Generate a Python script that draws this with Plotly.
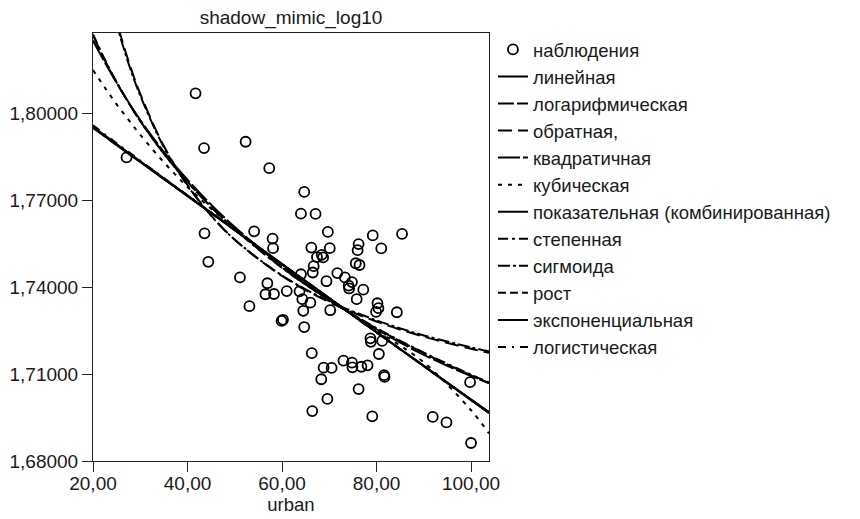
import plotly.graph_objects as go

# ---- observations ----
urban = [27.1, 41.7, 43.5, 43.6, 44.4, 52.3, 57.3, 51.1, 53.1, 54.1,
         58.0, 58.1, 56.9, 56.5, 58.3, 59.9, 60.2, 61.0, 64.7, 64.0,
         67.1, 69.7, 79.2, 85.4, 66.2, 70.1, 76.2, 76.0, 81.0, 68.4,
         67.4, 68.7, 66.7, 66.5, 75.6, 76.4, 64.0, 71.7, 73.3, 69.4,
         74.8, 74.1, 74.2, 77.2, 63.7, 64.3, 66.0, 75.8, 80.2, 80.4,
         79.9, 84.3, 64.5, 70.2, 64.7, 78.7, 78.8, 81.2, 80.5, 66.3,
         73.0, 74.8, 74.9, 76.8, 78.1, 68.8, 70.5, 68.3, 76.2, 81.6,
         81.7, 69.6, 66.4, 79.1, 99.8, 91.9, 94.8, 100.0]
shadow = [1.7847, 1.8068, 1.7879, 1.7585, 1.7487, 1.7901, 1.7810, 1.7433, 1.7334, 1.7592,
          1.7567, 1.7534, 1.7413, 1.7375, 1.7376, 1.7283, 1.7287, 1.7386, 1.7728, 1.7653,
          1.7652, 1.7590, 1.7578, 1.7583, 1.7536, 1.7534, 1.7548, 1.7527, 1.7533, 1.7511,
          1.7503, 1.7502, 1.7472, 1.7450, 1.7482, 1.7476, 1.7444, 1.7448, 1.7433, 1.7420,
          1.7417, 1.7405, 1.7395, 1.7391, 1.7385, 1.7358, 1.7346, 1.7358, 1.7344, 1.7327,
          1.7314, 1.7313, 1.7318, 1.7320, 1.7262, 1.7223, 1.7211, 1.7214, 1.7169, 1.7172,
          1.7146, 1.7139, 1.7123, 1.7125, 1.7130, 1.7122, 1.7121, 1.7082, 1.7048, 1.7096,
          1.7090, 1.7014, 1.6972, 1.6954, 1.7072, 1.6952, 1.6933, 1.6862]

# ---- fitted curves ----
fit_x = [20, 22.5, 25, 27.5, 30, 35, 40, 45, 50, 60, 70, 80, 90, 100, 103.8]
fit_linear = [1.7948, 1.7919, 1.7889, 1.7860, 1.7831, 1.7772, 1.7713, 1.7655, 1.7596, 1.7479, 1.7362, 1.7244, 1.7127, 1.7010, 1.6965]
fit_log = [1.8268, 1.8182, 1.8105, 1.8036, 1.7972, 1.7860, 1.7763, 1.7677, 1.7600, 1.7467, 1.7355, 1.7257, 1.7172, 1.7095, 1.7068]
fit_inverse = [1.8694, 1.8484, 1.8317, 1.8180, 1.8066, 1.7886, 1.7752, 1.7647, 1.7563, 1.7438, 1.7348, 1.7281, 1.7229, 1.7187, 1.7173]
fit_quadratic = [1.8250, 1.8175, 1.8104, 1.8038, 1.7976, 1.7866, 1.7770, 1.7684, 1.7607, 1.7472, 1.7356, 1.7254, 1.7166, 1.7093, 1.7070]
fit_cubic = [1.8148, 1.8088, 1.8030, 1.7977, 1.7925, 1.7830, 1.7745, 1.7670, 1.7600, 1.7475, 1.7360, 1.7250, 1.7140, 1.6975, 1.6895]
fit_compound = [1.7952, 1.7922, 1.7892, 1.7862, 1.7833, 1.7774, 1.7715, 1.7656, 1.7597, 1.7479, 1.7361, 1.7244, 1.7128, 1.7012, 1.6968]
fit_power = [1.8272, 1.8185, 1.8107, 1.8037, 1.7973, 1.7860, 1.7762, 1.7676, 1.7599, 1.7466, 1.7355, 1.7258, 1.7174, 1.7098, 1.7071]
fit_s = [1.8680, 1.8472, 1.8307, 1.8172, 1.8060, 1.7882, 1.7750, 1.7646, 1.7563, 1.7440, 1.7351, 1.7285, 1.7233, 1.7192, 1.7178]
fit_growth = [1.7952, 1.7922, 1.7892, 1.7862, 1.7833, 1.7774, 1.7715, 1.7656, 1.7597, 1.7479, 1.7361, 1.7244, 1.7128, 1.7012, 1.6968]
fit_exponential = [1.7952, 1.7922, 1.7892, 1.7862, 1.7833, 1.7774, 1.7715, 1.7656, 1.7597, 1.7479, 1.7361, 1.7244, 1.7128, 1.7012, 1.6968]
fit_logistic = [1.7958, 1.7927, 1.7896, 1.7866, 1.7836, 1.7776, 1.7716, 1.7657, 1.7597, 1.7478, 1.7360, 1.7243, 1.7127, 1.7011, 1.6967]

x_ticks = [20, 40, 60, 80, 100]
x_ticktext = ["20,00", "40,00", "60,00", "80,00", "100,00"]
y_ticks = [1.68, 1.71, 1.74, 1.77, 1.80]
y_ticktext = ["1,68000", "1,71000", "1,74000", "1,77000", "1,80000"]

curves = [
    ("линейная", fit_linear, "solid"),
    ("логарифмическая", fit_log, "16px,3px"),
    ("обратная,", fit_inverse, "14px,6px"),
    ("квадратичная", fit_quadratic, "22px,3px"),
    ("кубическая", fit_cubic, "4px,6px"),
    ("показательная (комбинированная)", fit_compound, "solid"),
    ("степенная", fit_power, "10px,4px,3px,4px"),
    ("сигмоида", fit_s, "12px,3px,3px,3px"),
    ("рост", fit_growth, "8px,4px"),
    ("экспоненциальная", fit_exponential, "solid"),
    ("логистическая", fit_logistic, "8px,6px,2px,6px"),
]

FONT = "Liberation Sans, Arial, sans-serif"
TXT = "#1a1a1a"
fig = go.Figure()
fig.add_trace(go.Scatter(
    x=urban, y=shadow, mode="markers", name="наблюдения",
    marker=dict(symbol="circle-open", size=10, color="black", line=dict(width=1.8, color="black")),
))
for name, ys, dash in curves:
    fig.add_trace(go.Scatter(
        x=fit_x, y=ys, mode="lines", name=name,
        line=dict(color="black", width=2, dash=dash, shape="spline"),
    ))

# page body has an 8px margin: plot area lands at x 93..489, y 33..461 on screen
fig.update_layout(
    width=860, height=519,
    margin=dict(l=85, r=379, t=25, b=66),
    paper_bgcolor="white", plot_bgcolor="white",
    font=dict(family=FONT, size=18.5, color=TXT),
    title=dict(text="shadow_mimic_log10", x=0.5, xref="paper", xanchor="center",
               y=1 - 3 / 519, yref="container", yanchor="top",
               font=dict(family=FONT, size=19, color=TXT)),
    showlegend=True,
    legend=dict(x=1.01, xanchor="left", y=1.005, yanchor="top", yref="paper",
                font=dict(family=FONT, size=18.5, color=TXT),
                itemwidth=30, maxheight=500, bgcolor="rgba(0,0,0,0)"),
    xaxis=dict(range=[20, 103.8], tickvals=x_ticks, ticktext=x_ticktext,
               ticks="outside", ticklen=10, tickcolor="#222", tickwidth=1,
               showline=True, linecolor="#222", linewidth=1, mirror=True,
               showgrid=False, zeroline=False, tickfont=dict(size=19), automargin=False,
               ticklabelstandoff=-5,
               title=dict(text="urban", standoff=0, font=dict(family=FONT, size=18.5))),
    yaxis=dict(range=[1.68, 1.8276], tickvals=y_ticks, ticktext=y_ticktext,
               ticks="outside", ticklen=10, tickcolor="#222", tickwidth=1,
               showline=True, linecolor="#222", linewidth=1, mirror=True,
               showgrid=False, zeroline=False, tickfont=dict(size=19), automargin=False),
)

fig.write_html("out.html")
